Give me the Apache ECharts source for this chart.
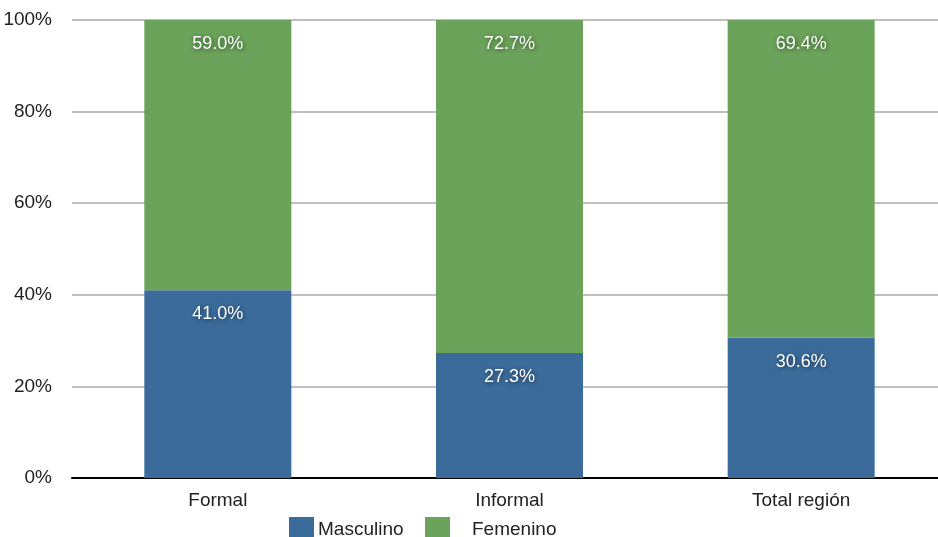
<!DOCTYPE html>
<html>
<head>
<meta charset="utf-8">
<script src="https://cdn.jsdelivr.net/npm/echarts@6/dist/echarts.min.js"></script>
<style>html,body{margin:0;padding:0;background:#fff;overflow:hidden;width:938px;height:537px}#c{width:947px;height:537px}</style>
</head>
<body>
<div id="c"></div>
<script>
const categories = ['Formal', 'Informal', 'Total región'];
const masculino = [41.0, 27.3, 30.6];
const femenino = [59.0, 72.7, 69.4];
const yTicks = [0, 20, 40, 60, 80, 100];

const FONT = '"Liberation Sans", Arial, sans-serif';
const chart = echarts.init(document.getElementById('c'));
const labelStyle = {
  show: true,
  position: 'insideTop',
  distance: 15,
  color: '#fff',
  fontFamily: FONT,
  fontSize: 18,
  textShadowColor: 'rgba(0,0,0,0.55)',
  textShadowBlur: 4,
  textShadowOffsetX: 1,
  textShadowOffsetY: 1,
  formatter: p => p.value.toFixed(1) + '%'
};
chart.setOption({
  animation: false,
  grid: { left: 72, right: 0, top: 20, bottom: 59, containLabel: false },
  legend: [
    { data: ['Masculino'], left: 284, top: 512, itemWidth: 25, itemHeight: 25, icon: 'rect',
      textStyle: { fontFamily: FONT, fontSize: 19, color: '#222', padding: [2, 0, 0, -1] }, itemGap: 0 },
    { data: ['Femenino'], left: 420, top: 512, itemWidth: 25, itemHeight: 25, icon: 'rect',
      textStyle: { fontFamily: FONT, fontSize: 19, color: '#222', padding: [2, 0, 0, 17] }, itemGap: 0 }
  ],
  xAxis: {
    type: 'category',
    data: categories,
    axisLine: { lineStyle: { color: '#000', width: 2 } },
    axisTick: { show: false },
    axisLabel: { color: '#222', fontFamily: FONT, fontSize: 19, margin: 13 }
  },
  yAxis: {
    type: 'value',
    min: 0, max: 100, interval: 20,
    axisLine: { show: false },
    axisTick: { show: false },
    splitLine: { lineStyle: { color: '#aaa', width: 1.5 } },
    axisLabel: { color: '#222', fontFamily: FONT, fontSize: 19, margin: 20,
      formatter: v => yTicks.includes(v) ? v + '%' : '' }
  },
  series: [
    { name: 'Masculino', type: 'bar', stack: 's', data: masculino, barWidth: 147,
      itemStyle: { color: '#3b6b9b' }, label: labelStyle },
    { name: 'Femenino', type: 'bar', stack: 's', data: femenino, barWidth: 147,
      itemStyle: { color: '#6ba35a' }, label: labelStyle }
  ]
});
</script>
</body>
</html>
